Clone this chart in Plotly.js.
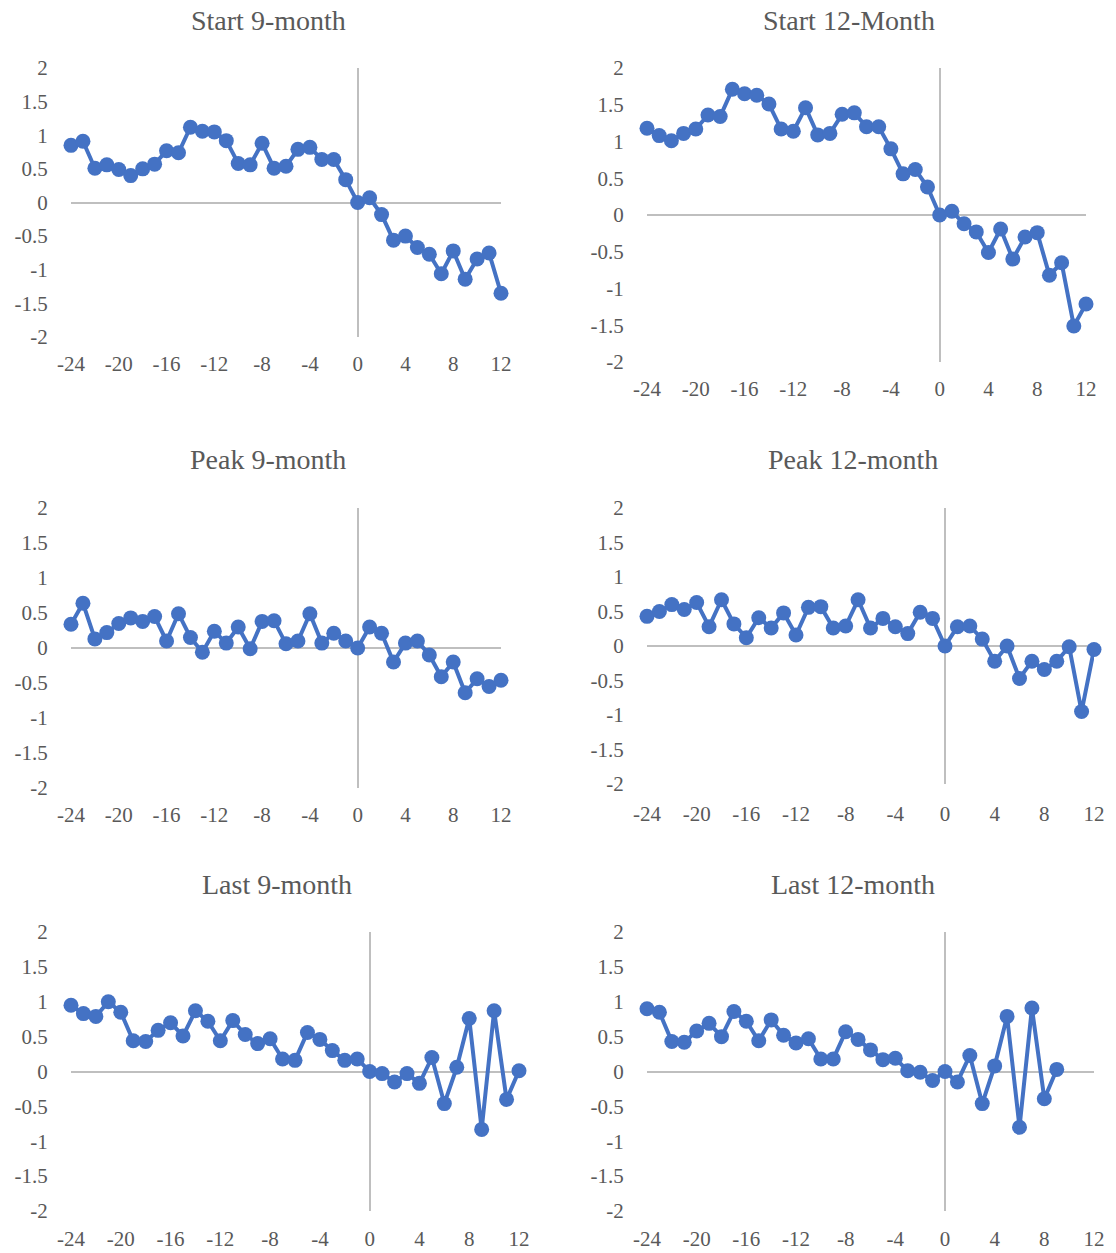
<!DOCTYPE html>
<html>
<head>
<meta charset="utf-8">
<script src="https://cdn.plot.ly/plotly-3.0.1.min.js"></script>
<style>html,body{margin:0;padding:0;background:#fff;}#chart{width:1116px;height:1253px;}</style>
</head>
<body>
<div id="chart"></div>
<script>
const months = [-24,-23,-22,-21,-20,-19,-18,-17,-16,-15,-14,-13,-12,-11,-10,-9,-8,-7,-6,-5,-4,-3,-2,-1,0,1,2,3,4,5,6,7,8,9,10,11,12];
const start9 = [0.85,0.91,0.51,0.56,0.49,0.40,0.50,0.57,0.77,0.74,1.12,1.06,1.05,0.92,0.58,0.56,0.88,0.51,0.54,0.79,0.82,0.64,0.64,0.34,0,0.07,-0.18,-0.56,-0.50,-0.67,-0.77,-1.06,-0.72,-1.14,-0.84,-0.75,-1.35];
const start12 = [1.18,1.08,1.01,1.11,1.17,1.36,1.34,1.71,1.65,1.63,1.51,1.17,1.14,1.46,1.09,1.11,1.37,1.39,1.20,1.20,0.90,0.56,0.62,0.38,0,0.05,-0.12,-0.23,-0.51,-0.19,-0.60,-0.30,-0.24,-0.82,-0.65,-1.51,-1.21];
const peak9 = [0.34,0.64,0.13,0.22,0.35,0.43,0.38,0.45,0.10,0.49,0.15,-0.06,0.24,0.07,0.30,-0.01,0.38,0.39,0.06,0.10,0.49,0.07,0.21,0.10,0,0.30,0.21,-0.20,0.07,0.10,-0.10,-0.41,-0.20,-0.64,-0.44,-0.55,-0.46];
const peak12 = [0.43,0.50,0.60,0.53,0.63,0.28,0.67,0.32,0.12,0.41,0.26,0.48,0.16,0.56,0.57,0.26,0.29,0.67,0.26,0.40,0.28,0.18,0.49,0.40,0,0.28,0.29,0.10,-0.22,0.00,-0.47,-0.22,-0.34,-0.22,-0.01,-0.95,-0.05];
const last9 = [0.95,0.83,0.79,1.00,0.85,0.44,0.43,0.59,0.70,0.51,0.87,0.72,0.44,0.73,0.53,0.40,0.47,0.18,0.16,0.56,0.46,0.30,0.16,0.18,0,-0.03,-0.15,-0.03,-0.17,0.20,-0.46,0.06,0.76,-0.83,0.87,-0.40,0.01];
const last12 = [0.90,0.85,0.43,0.42,0.58,0.69,0.50,0.86,0.72,0.44,0.74,0.52,0.41,0.47,0.18,0.18,0.57,0.46,0.31,0.17,0.19,0.01,-0.01,-0.13,0,-0.15,0.23,-0.46,0.08,0.79,-0.80,0.91,-0.39,0.03,null,null,null];

const panelTitles = ['Start 9-month','Start 12-Month','Peak 9-month','Peak 12-month','Last 9-month','Last 12-month'];
const xTickVals = [-24,-20,-16,-12,-8,-4,0,4,8,12];
const xTickText = ['-24','-20','-16','-12','-8','-4','0','4','8','12'];
const yTickVals = [-2,-1.5,-1,-0.5,0,0.5,1,1.5,2];
const yTickText = ['-2','-1.5','-1','-0.5','0','0.5','1','1.5','2'];

const series = [start9, start12, peak9, peak12, last9, last12];

// Layout geometry (pixels): plot area [left,right,top,bottom], title centre [x,y]
const W = 1116, H = 1253;
const boxes = [
  [71, 501, 68, 337],
  [647, 1086, 68, 362],
  [71, 501, 508, 788],
  [647, 1094, 508, 784],
  [71, 519, 932, 1211],
  [647, 1094, 932, 1211]
];
const xLabelLen = [8, 8, 8, 11, 9, 9];
const titlePos = [[268,20],[849,20],[268,460],[853,460],[277,884],[853,884]];

const BLUE = '#4472C4';
const GREY = '#595959';
const FONT = 'Liberation Serif, Times New Roman, serif';

const traces = [];
const layout = {
  width: W, height: H,
  margin: {l:0, r:0, t:0, b:0},
  paper_bgcolor: '#ffffff',
  plot_bgcolor: '#ffffff',
  showlegend: false,
  font: {family: FONT, color: GREY, size: 21},
  annotations: []
};

series.forEach((ys, i) => {
  const n = i + 1;
  const xa = 'xaxis' + (n === 1 ? '' : n);
  const ya = 'yaxis' + (n === 1 ? '' : n);
  traces.push({
    type: 'scatter', mode: 'lines+markers',
    x: months, y: ys,
    xaxis: 'x' + (n === 1 ? '' : n), yaxis: 'y' + (n === 1 ? '' : n),
    line: {color: BLUE, width: 4},
    marker: {color: BLUE, size: 15},
    connectgaps: false,
    cliponaxis: false,
    hoverinfo: 'x+y'
  });
  const b = boxes[i];
  layout[xa] = {
    domain: [b[0]/W, b[1]/W],
    range: [-24, 12],
    anchor: 'y' + (n === 1 ? '' : n),
    showgrid: false, showline: false,
    zeroline: true, zerolinecolor: '#bfbfbf', zerolinewidth: 2,
    tickmode: 'array', tickvals: xTickVals, ticktext: xTickText,
    ticks: 'outside', ticklen: xLabelLen[i], tickcolor: 'rgba(0,0,0,0)',
    tickfont: {family: FONT, color: GREY, size: 21},
    fixedrange: true
  };
  layout[ya] = {
    domain: [1 - b[3]/H, 1 - b[2]/H],
    range: [-2, 2],
    anchor: 'x' + (n === 1 ? '' : n),
    showgrid: false, showline: false,
    zeroline: true, zerolinecolor: '#bfbfbf', zerolinewidth: 2,
    tickmode: 'array', tickvals: yTickVals, ticktext: yTickText,
    ticks: 'outside', ticklen: 18, tickcolor: 'rgba(0,0,0,0)',
    tickfont: {family: FONT, color: GREY, size: 21},
    fixedrange: true
  };
  layout.annotations.push({
    text: panelTitles[i],
    xref: 'paper', yref: 'paper',
    x: titlePos[i][0]/W, y: 1 - titlePos[i][1]/H,
    xanchor: 'center', yanchor: 'middle',
    showarrow: false,
    font: {family: FONT, color: GREY, size: 28}
  });
});

Plotly.newPlot('chart', traces, layout, {displayModeBar: false, staticPlot: true});
</script>
</body>
</html>
